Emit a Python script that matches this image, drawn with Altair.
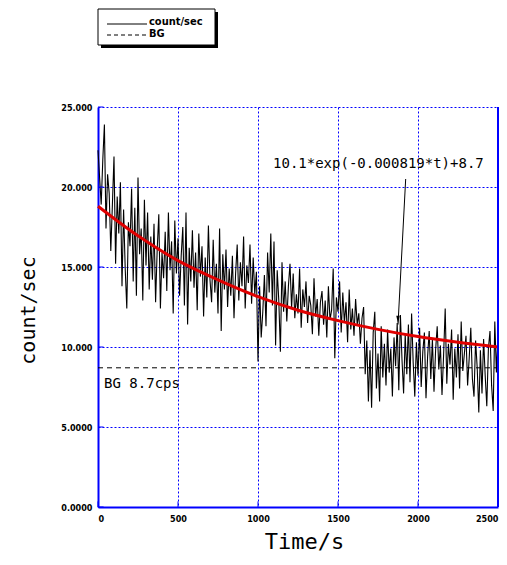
import altair as alt
import pandas as pd

# ---------------- data ----------------
times = list(range(0, 2501, 10))
counts = [
    22.3, 20.6, 18.9, 21.7, 23.9, 17.4, 20.8, 19.6, 16.0, 18.9,
    21.9, 15.2, 19.4, 17.1, 20.3, 13.8, 18.6, 14.9, 12.4, 17.8,
    16.3, 19.9, 14.1, 18.7, 13.2, 20.6, 15.8, 17.4, 12.9, 19.2,
    15.1, 18.4, 13.6, 16.9, 14.2, 17.7, 12.8, 16.1, 18.3, 12.4,
    15.9, 14.3, 17.2, 13.5, 18.4, 14.8, 16.6, 12.1, 17.9, 14.6,
    16.8, 13.2, 15.7, 17.5, 12.6, 18.4, 11.4, 16.2, 14.1, 17.3,
    13.7, 15.9, 12.3, 17.1, 14.4, 16.3, 11.9, 15.6, 13.1, 17.6,
    14.2, 12.8, 16.7, 13.4, 15.2, 12.1, 17.4, 11.0, 15.8, 13.6,
    16.1, 12.5, 14.9, 13.2, 15.7, 11.8, 14.6, 16.4, 12.9, 15.3,
    13.8, 16.9, 12.4, 15.1, 14.0, 16.4, 12.7, 15.6, 13.3, 14.7,
    9.1, 13.8, 10.6, 12.2, 14.5, 11.3, 15.9, 13.4, 17.1, 12.6,
    16.6, 10.1, 14.8, 12.9, 9.7, 15.3, 12.2, 14.1, 11.6, 13.8,
    15.2, 12.4, 14.6, 11.8, 13.3, 12.1, 14.9, 11.2, 13.6, 12.5,
    14.1, 11.5, 13.2, 12.6, 10.8, 14.3, 11.9, 13.0, 10.7, 12.8,
    13.5, 11.4, 12.9, 10.6, 13.8, 11.7, 12.3, 14.9, 9.3, 13.1,
    12.2, 14.1, 10.9, 13.4, 11.5, 12.8, 10.3, 13.6, 11.1, 12.4,
    10.7, 13.0, 11.4, 12.1, 10.2, 11.8, 12.5, 8.3, 10.4, 6.6,
    9.8, 6.2, 10.9, 12.2, 7.4, 9.6, 6.6, 11.3, 8.1, 10.2,
    7.6, 11.1, 8.4, 9.9, 6.9, 10.6, 8.8, 11.5, 7.3, 12.0,
    9.2, 7.1, 10.8, 8.3, 11.4, 7.8, 12.1, 9.0, 6.9, 10.3,
    8.2, 11.2, 7.5, 9.7, 10.9, 6.8, 9.4, 11.0, 8.0, 10.5,
    7.2, 9.8, 11.3, 8.6, 10.1, 7.0, 9.5, 12.4, 7.7, 10.2,
    8.9, 11.1, 6.7, 9.9, 8.1, 10.8, 7.4, 11.6, 8.5, 9.6,
    10.7, 7.6, 9.3, 11.2, 8.0, 6.9, 10.4, 8.7, 5.9, 9.8,
    7.1, 10.5, 8.2, 6.3, 9.9, 11.0, 7.6, 6.0, 11.6, 8.4,
    10.8,
]

# red fitted curve, values read at every 250 s
fit_t = [0, 250, 500, 750, 1000, 1250, 1500, 1750, 2000, 2250, 2500]
fit_v = [18.8, 16.95, 15.4, 14.2, 13.15, 12.3, 11.65, 11.1, 10.65, 10.3, 10.0]

bg_level = 8.7
bg_t = [0, 2500]

x_ticks = [0, 500, 1000, 1500, 2000, 2500]
y_ticks = [0, 5, 10, 15, 20, 25]

fit_label = "10.1*exp(-0.000819*t)+8.7"
fit_label_pos = [1094, 21.45]
arrow_from = [1923, 20.5]
arrow_to = [1875, 11.4]
bg_label = "BG 8.7cps"
bg_label_pos = [38, 7.7]

legend_names = ["count/sec", "BG"]

# ---------------- tables ----------------
df = pd.DataFrame({"t": times, "v": counts})
fit_df = pd.DataFrame({"t": fit_t, "v": fit_v})
bg_df = pd.DataFrame({"t": bg_t, "v": [bg_level, bg_level]})
ann_df = pd.DataFrame({"t": [fit_label_pos[0]], "v": [fit_label_pos[1]], "label": [fit_label]})
bgl_df = pd.DataFrame({"t": [bg_label_pos[0]], "v": [bg_label_pos[1]], "label": [bg_label]})
arrow_df = pd.DataFrame({"t": [arrow_from[0]], "v": [arrow_from[1]],
                         "t2": [arrow_to[0]], "v2": [arrow_to[1]]})
head_df = pd.DataFrame({"t": [arrow_to[0]], "v": [arrow_to[1]]})
right_df = pd.DataFrame({"t": [2500], "v": [0], "v2": [25]})
xtick_df = pd.DataFrame({"t": x_ticks, "v": [0] * len(x_ticks), "v2": [0.35] * len(x_ticks)})
ytick_df = pd.DataFrame({"t": [0] * len(y_ticks), "t2": [35] * len(y_ticks), "v": y_ticks})

BLUE = "#0000ff"
xs = alt.Scale(domain=[0, 2500], nice=False)
ys = alt.Scale(domain=[0, 25], nice=False)

x_axis = alt.Axis(
    values=x_ticks, title="Time/s", grid=True, ticks=False, format="d",
    labelFont="DejaVu Sans Condensed", labelFontWeight="bold", labelFontSize=9,
    labelColor="black", labelPadding=7, labelFlush=True,
    titleFont="DejaVu Sans Mono", titleFontSize=22, titleFontWeight="normal",
    titleColor="black", titleX=206, titleY=34, titleBaseline="middle",
)
y_axis = alt.Axis(
    values=y_ticks, title="count/sec", grid=True, ticks=False,
    labelExpr="datum.value >= 10 ? format(datum.value, '.3f') : format(datum.value, '.4f')",
    labelFont="DejaVu Sans Condensed", labelFontWeight="bold", labelFontSize=9,
    labelColor="black", labelPadding=6,
    titleFont="DejaVu Sans Mono", titleFontSize=20, titleFontWeight="normal",
    titleColor="black", titleX=-70, titleY=203, titleAngle=270,
    titleAlign="center", titleBaseline="middle",
)

X = alt.X("t:Q", scale=xs, axis=x_axis)
Y = alt.Y("v:Q", scale=ys, axis=y_axis)

data_line = alt.Chart(df).mark_line(color="black", strokeWidth=1.1).encode(x=X, y=Y)

bg_line = alt.Chart(bg_df).mark_line(color="black", strokeWidth=1, strokeDash=[5, 4]).encode(x=X, y=Y)

fit_line = alt.Chart(fit_df).mark_line(
    color="#e00000", strokeWidth=3, interpolate="monotone"
).encode(x=X, y=Y)

right_border = alt.Chart(right_df).mark_rule(color=BLUE, strokeWidth=2).encode(
    x=X, y=Y, y2="v2:Q"
)
x_inner_ticks = alt.Chart(xtick_df).mark_rule(color=BLUE, strokeWidth=1).encode(
    x=X, y=Y, y2="v2:Q"
)
y_inner_ticks = alt.Chart(ytick_df).mark_rule(color=BLUE, strokeWidth=1).encode(
    x=X, x2="t2:Q", y=Y
)

fit_text = alt.Chart(ann_df).mark_text(
    align="left", baseline="middle", font="DejaVu Sans Mono", fontSize=14, color="black"
).encode(x=X, y=Y, text="label:N")

bg_text = alt.Chart(bgl_df).mark_text(
    align="left", baseline="middle", font="DejaVu Sans Mono", fontSize=14, color="black"
).encode(x=X, y=Y, text="label:N")

arrow = alt.Chart(arrow_df).mark_rule(color="black", strokeWidth=1).encode(
    x=X, y=Y, x2="t2:Q", y2="v2:Q"
)
arrow_head = alt.Chart(head_df).mark_point(
    shape="M -0.45 -1 L 0.45 -1 L 0 1 Z", size=60, filled=True, color="black", opacity=1,
    yOffset=-5
).encode(x=X, y=Y)

# legend box drawn above the plot area
leg_shadow = alt.Chart().mark_rect(fill="black").encode(
    x=alt.value(3), x2=alt.value(120), y=alt.value(-95), y2=alt.value(-59)
)
leg_box = alt.Chart().mark_rect(fill="white", stroke="black", strokeWidth=1).encode(
    x=alt.value(0), x2=alt.value(117), y=alt.value(-98), y2=alt.value(-62)
)
leg_l1 = alt.Chart().mark_rule(color="black", strokeWidth=1).encode(
    x=alt.value(9), x2=alt.value(49), y=alt.value(-83)
)
leg_l2 = alt.Chart().mark_rule(color="black", strokeWidth=1, strokeDash=[4, 3]).encode(
    x=alt.value(9), x2=alt.value(49), y=alt.value(-72)
)
leg_t1 = alt.Chart().mark_text(
    text=legend_names[0], align="left", baseline="middle",
    font="DejaVu Sans Condensed", fontWeight="bold", fontSize=11, color="black"
).encode(x=alt.value(51), y=alt.value(-85))
leg_t2 = alt.Chart().mark_text(
    text=legend_names[1], align="left", baseline="middle",
    font="DejaVu Sans Condensed", fontWeight="bold", fontSize=11, color="black"
).encode(x=alt.value(51), y=alt.value(-73))

chart = alt.layer(
    data_line, bg_line, fit_line, right_border, x_inner_ticks, y_inner_ticks,
    fit_text, bg_text, arrow, arrow_head,
    leg_shadow, leg_box, leg_l1, leg_l2, leg_t1, leg_t2,
).properties(
    width=400, height=400,
    padding={"left": 90, "top": 99, "right": 1, "bottom": 48},
    autosize=alt.AutoSizeParams(type="none"),
).configure_view(stroke=None).configure_axis(
    domainColor=BLUE, domainWidth=2,
    gridColor=BLUE, gridDash=[2, 2], gridWidth=1, gridOpacity=1,
)

chart.save("out.html", embed_options={"renderer": "svg", "actions": False})
